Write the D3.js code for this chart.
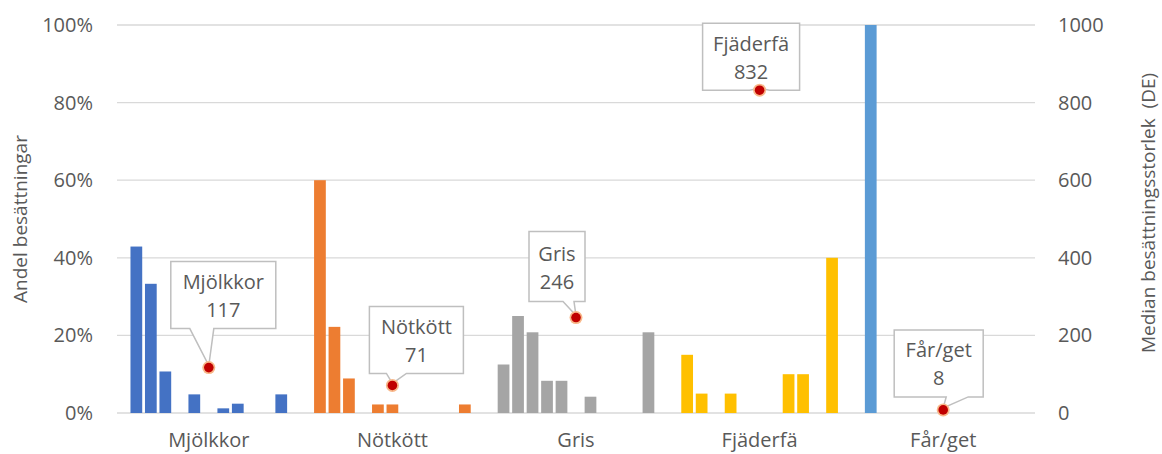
<!DOCTYPE html>
<html><head><meta charset="utf-8">
<script src="https://cdn.jsdelivr.net/npm/d3@7"></script>
<style>body{margin:0;background:#fff}svg{display:block}text{font-family:"Open Sans",sans-serif;fill:#595959}</style>
</head><body><svg id="c" width="1162" height="454"></svg>
<script>
const categories = ["Mjölkkor","Nötkött","Gris","Fjäderfä","Får/get"];
const sizeClasses = ["k1","k2","k3","k4","k5","k6","k7","k8","k9","k10","k11"];
const mjolkkor = [42.9,33.3,10.7,0,4.8,0,1.2,2.4,0,0,4.8];
const notkott  = [60,22.2,8.9,0,2.2,2.2,0,0,0,0,2.2];
const gris     = [12.5,25,20.8,8.3,8.3,0,4.2,0,0,0,20.8];
const fjaderfa = [15,5,0,5,0,0,0,10,10,0,40];
const farget   = [100,0,0,0,0,0,0,0,0,0,0];
const medianSize = [117,71,246,832,8];
const leftTicks = [0,20,40,60,80,100];
const rightTicks = [0,200,400,600,800,1000];
const colors = ["#4472c4","#ed7d31","#a5a5a5","#ffc000","#5b9bd5"];
const shares = [mjolkkor, notkott, gris, fjaderfa, farget];

const svg = d3.select("#c");
const L = 117, R = 1035, T = 25, B = 413;
const x = d3.scaleBand().domain(categories).range([L,R]).padding(0);
const xi = d3.scaleBand().domain(sizeClasses).range([0,x.bandwidth()]).paddingInner(0.19).paddingOuter(0.93);
const yL = d3.scaleLinear().domain([0,100]).range([B,T]);
const yR = d3.scaleLinear().domain([0,1000]).range([B,T]);

// gridlines
svg.append("g").selectAll("line").data(leftTicks).join("line")
  .attr("x1",L).attr("x2",R).attr("y1",d=>yL(d)).attr("y2",d=>yL(d))
  .attr("stroke","#d9d9d9").attr("stroke-width",1.3);

// axes
const gl = svg.append("g").attr("transform",`translate(${L},0)`)
  .call(d3.axisLeft(yL).tickValues(leftTicks).tickFormat(d=>d+"%").tickSize(0).tickPadding(24));
gl.select(".domain").remove();
gl.selectAll("text").attr("font-size",20).attr("fill","#595959").attr("font-family","Open Sans");
const gr = svg.append("g").attr("transform",`translate(${R},0)`)
  .call(d3.axisRight(yR).tickValues(rightTicks).tickFormat(d=>String(d)).tickSize(0).tickPadding(23));
gr.select(".domain").remove();
gr.selectAll("text").attr("font-size",20).attr("fill","#595959").attr("font-family","Open Sans");

// x labels
svg.append("g").selectAll("text").data(categories).join("text")
  .attr("x",d=>x(d)+x.bandwidth()/2).attr("y",447).attr("text-anchor","middle")
  .attr("font-size",20).text(d=>d);

// axis titles
svg.append("text").attr("transform",`translate(27,${(T+B)/2}) rotate(-90)`).attr("text-anchor","middle")
  .attr("font-size",19).text("Andel besättningar");
svg.append("text").attr("transform",`translate(1155,${(T+B)/2-6}) rotate(-90)`).attr("text-anchor","middle")
  .attr("font-size",19).style("white-space","pre").text("Median besättningsstorlek  (DE)");

// bars
categories.forEach((c,ci)=>{
  svg.append("g").selectAll("rect").data(shares[ci].map((v,i)=>({k:sizeClasses[i],v}))).join("rect")
    .filter(d=>d.v>0)
    .attr("x",d=>x(c)+xi(d.k)).attr("width",xi.bandwidth())
    .attr("y",d=>yL(d.v)).attr("height",d=>B-yL(d.v)).attr("fill",colors[ci]);
});

// callouts: box offsets relative to point [dx1, dy1, dx2, dy2], pointer base [px1, px2]
const callouts = [
  {box:[-38,-106,67,-39], ptr:[-19,5]},
  {box:[-23,-79,71,-12], ptr:[-6,14]},
  {box:[-47,-86,9,-16], ptr:[-13,-2]},
  {box:[-57,-67,40,0], ptr:[-10,10]},
  {box:[-49,-80,40,-13], ptr:[3,25]}
];
categories.forEach((c,ci)=>{
  const px = x(c)+x.bandwidth()/2, py = yR(medianSize[ci]);
  const o = callouts[ci];
  const x1=px+o.box[0], y1=py+o.box[1], x2=px+o.box[2], y2=py+o.box[3];
  const path = `M${x1},${y1}H${x2}V${y2}H${px+o.ptr[1]}L${px},${py-2}L${px+o.ptr[0]},${y2}H${x1}Z`;
  svg.append("path").attr("d",path).attr("fill","#fff").attr("stroke","#bfbfbf").attr("stroke-width",1.5);
  const cx=(x1+x2)/2, h=y2-y1;
  svg.append("text").attr("x",cx).attr("y",y1+h*0.5-6).attr("text-anchor","middle").attr("font-size",20).text(c);
  svg.append("text").attr("x",cx).attr("y",y1+h*0.5+22).attr("text-anchor","middle").attr("font-size",20).text(medianSize[ci]);
  svg.append("circle").attr("cx",px).attr("cy",py).attr("r",6.5).attr("fill","#f8b88a");
  svg.append("circle").attr("cx",px).attr("cy",py).attr("r",4.8).attr("fill","#c00000");
});
</script></body></html>
